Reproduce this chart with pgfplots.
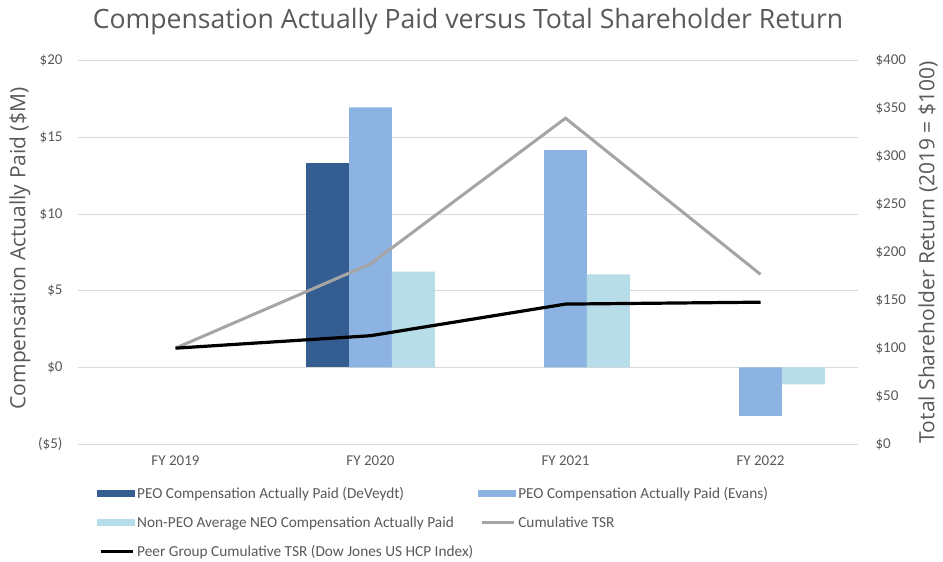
\documentclass[border=0pt]{standalone}
\usepackage{pgfplots}
\pgfplotsset{compat=1.18}
\usepackage{fontspec}
\setmainfont{Carlito}
\newfontfamily\osans{Open Sans}
\definecolor{txt}{HTML}{595959}
\definecolor{gridc}{HTML}{D9D9D9}
\definecolor{cDev}{HTML}{345E92}
\definecolor{cEva}{HTML}{8DB3E2}
\definecolor{cNon}{HTML}{B7DDE8}
\definecolor{cTSR}{HTML}{A5A5A5}
\begin{document}
\begin{tikzpicture}
\begin{axis}[
  scale only axis, width=780pt, height=383.3pt,
  xmin=-0.5, xmax=3.5, ymin=-5, ymax=20,
  xtick={0,1,2,3}, xticklabels={FY 2019,FY 2020,FY 2021,FY 2022},
  ytick={-5,0,5,10,15,20},
  yticklabels={(\$5),\$0,\$5,\$10,\$15,\$20},
  xmajorgrids=false, ymajorgrids=true, grid style={draw=gridc, line width=0.8pt},
  axis line style={draw=none}, major tick length=0pt,
  tick label style={font=\fontsize{15}{17}\selectfont, text=txt},
  yticklabel style={xshift=-12pt},
  xticklabel style={yshift=-8pt},
  every axis y label/.style={at={(axis description cs:-0.0744,0.51)}, rotate=90, anchor=center, font=\osans\fontsize{21}{24}\selectfont, text=txt},
  ylabel={Compensation Actually Paid (\$M)},
  title={Compensation Actually Paid versus Total Shareholder Return},
  title style={at={(axis description cs:0.5,1)}, anchor=center, yshift=33pt, font=\osans\fontsize{26.6}{30}\selectfont, text=txt},
  ybar, bar width=0.22,
  legend columns=2,
  legend cell align=left,
  legend style={draw=none, fill=none, at={(axis description cs:0.0244,-0.106)}, anchor=north west,
    font=\fontsize{15.3}{17}\selectfont, text=txt, row sep=13pt, inner sep=0pt,
    /tikz/every even column/.append style={column sep=3pt}},
]
\addplot[fill=cDev, draw=none, bar shift=-0.22,
  legend image code/.code={\fill[cDev] (0pt,-3.5pt) rectangle (38pt,3.5pt);}]
  coordinates {(1,13.3)};
\addlegendentry{PEO Compensation Actually Paid (DeVeydt)}
\addplot[fill=cEva, draw=none, bar shift=0,
  legend image code/.code={\fill[cEva] (0pt,-3.5pt) rectangle (38pt,3.5pt);}]
  coordinates {(1,16.96) (2,14.17) (3,-3.16)};
\addlegendentry{PEO Compensation Actually Paid (Evans)}
\addplot[fill=cNon, draw=none, bar shift=0.22,
  legend image code/.code={\fill[cNon] (0pt,-3.5pt) rectangle (38pt,3.5pt);}]
  coordinates {(1,6.24) (2,6.07) (3,-1.11)};
\addlegendentry{Non-PEO Average NEO Compensation Actually Paid}
\addlegendimage{legend image code/.code={\draw[cTSR, line width=3pt] (4pt,0pt) -- (36pt,0pt);}}
\addlegendentry{Cumulative TSR}
\addlegendimage{legend image code/.code={\draw[black, line width=3pt] (4pt,0pt) -- (36pt,0pt);}}
\addlegendentry{Peer Group Cumulative TSR (Dow Jones US HCP Index)}
\end{axis}
\begin{axis}[
  scale only axis, width=780pt, height=383.3pt,
  xmin=-0.5, xmax=3.5, ymin=0, ymax=400,
  axis x line=none, axis y line*=right,
  y axis line style={draw=none}, major tick length=0pt,
  ytick={0,50,...,400},
  yticklabels={\$0,\$50,\$100,\$150,\$200,\$250,\$300,\$350,\$400},
  tick label style={font=\fontsize{15}{17}\selectfont, text=txt},
  yticklabel style={xshift=14pt},
  every axis y label/.style={at={(axis description cs:1.0897,0.5)}, rotate=90, anchor=center, font=\osans\fontsize{21}{24}\selectfont, text=txt},
  ylabel={Total Shareholder Return (2019 = \$100)},
]
\addplot[cTSR, line width=3pt, mark=none] coordinates {(0,100) (1,188) (2,340) (3,177)};
\addplot[black, line width=3.2pt, mark=none] coordinates {(0,100) (1,113) (2,146) (3,148)};
\end{axis}
\pgfresetboundingbox
\useasboundingbox (-78pt,-118pt) rectangle (865pt,444pt);
\end{tikzpicture}
\end{document}
